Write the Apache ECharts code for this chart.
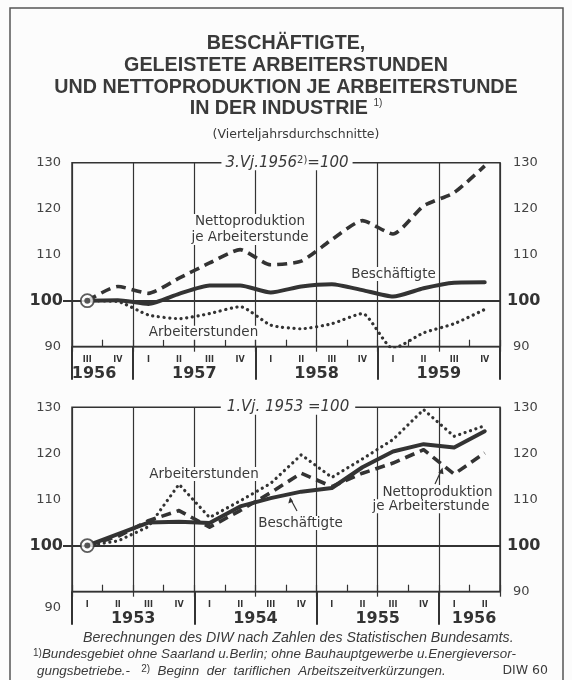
<!DOCTYPE html>
<html>
<head>
<meta charset="utf-8">
<title>Beschäftigte, geleistete Arbeiterstunden und Nettoproduktion</title>
<script src="https://cdn.jsdelivr.net/npm/echarts@6/dist/echarts.min.js"></script>
<style>
  html, body { margin: 0; padding: 0; background: #fcfcfc; }
  #main { width: 572px; height: 680px; }
</style>
</head>
<body>
<div id="main"></div>
<script>
// --- data -------------------------------------------------------------
// upper panel: 3. Vj. 1956 = 100, III/1956 .. IV/1959
var quartersTop = ['III', 'IV', 'I', 'II', 'III', 'IV', 'I', 'II', 'III', 'IV', 'I', 'II', 'III', 'IV'];
var yearsTop = ['1956', '1957', '1958', '1959'];
var yearPosTop = [0.72, 4, 8, 12];        // label centre, in quarters
var yearLinesTop = [0, 2, 6, 10, 14];     // year dividers, in quarters
var empTop = [100, 100.1, 99.3, 101.5, 103.3, 103.3, 101.8, 103.1, 103.6, 102.3, 100.9, 102.7, 103.9, 104.0];
var hoursTop = [100, 99.8, 96.9, 96.1, 97.2, 98.7, 94.7, 93.9, 95.0, 97.2, 89.6, 93.0, 95.0, 98.1];
var prodTop = [100, 103.1, 101.6, 104.9, 108.2, 111.1, 107.8, 108.6, 113.3, 117.4, 114.5, 120.6, 123.5, 129.3];

// lower panel: 1. Vj. 1953 = 100, I/1953 .. II/1956
var quartersBottom = ['I', 'II', 'III', 'IV', 'I', 'II', 'III', 'IV', 'I', 'II', 'III', 'IV', 'I', 'II'];
var yearsBottom = ['1953', '1954', '1955', '1956'];
var yearPosBottom = [2, 6, 10, 13.15];
var yearLinesBottom = [0, 4, 8, 12];
var empBottom = [100, 102.5, 105.0, 105.2, 104.9, 108.5, 110.3, 111.7, 112.5, 117.0, 120.4, 122.0, 121.3, 124.8];
var hoursBottom = [100, 101.0, 104.1, 113.3, 106.1, 109.7, 113.5, 119.7, 114.8, 118.8, 123.0, 129.5, 123.7, 126.0];
var prodBottom = [100, 102.0, 105.4, 107.6, 104.0, 107.6, 111.5, 115.7, 112.8, 115.7, 117.9, 120.8, 115.5, 120.1];

// ----------------------------------------------------------------------
var ink = '#333';
var paper = '#fcfcfc';
var numFont = 'DejaVu Sans';

// quarter i sits in the middle of its slot
function pts(arr) {
    return arr.map(function (v, i) { return [i + 0.5, v]; });
}

function xAxes(g, quarters, yearNames, yearPos, yearLines) {
    return [
        {   // grid lines every half year, 90 line
            gridIndex: g, type: 'value', min: 0, max: 14, interval: 2, position: 'bottom',
            axisLine: { show: true, lineStyle: { color: ink, width: 1.3 } },
            axisTick: { show: true, length: 5, lineStyle: { color: ink, width: 1.2 } },
            axisLabel: { show: false },
            splitLine: { show: true, lineStyle: { color: ink, width: 1.2 } }
        },
        {   // quarters
            gridIndex: g, type: 'category', data: quarters, boundaryGap: true, position: 'bottom',
            axisLine: { show: false },
            axisTick: { show: true, inside: true, length: 7, interval: 0, lineStyle: { color: ink, width: 1.2 } },
            axisLabel: { interval: 0, fontSize: 8, fontWeight: 'bold', color: ink, margin: 9, fontFamily: numFont },
            splitLine: { show: false }
        },
        {   // years
            gridIndex: g, type: 'value', min: 0, max: 14, position: 'bottom',
            axisLine: { show: false },
            axisTick: { show: true, customValues: yearLines, length: 33, lineStyle: { color: ink, width: 2 } },
            axisLabel: {
                customValues: yearPos, margin: 19, fontSize: 16, fontWeight: 'bold', color: ink, fontFamily: numFont,
                formatter: function (v) { return yearNames[yearPos.indexOf(v)] || ''; }
            },
            splitLine: { show: false }
        }
    ];
}

function yAxes(g) {
    var common = {
        gridIndex: g, type: 'value', min: 90, max: 130, interval: 10,
        axisLine: { show: false }
    };
    var left = Object.assign({}, common, {
        position: 'left',
        axisTick: { show: true, customValues: [100], length: 9, lineStyle: { color: ink, width: 2 } },
        splitLine: { show: true, lineStyle: { color: ink, width: 1.2 } },
        axisLabel: {
            margin: 9,
            formatter: function (v) {
                if (v === 100) return '{b|100}';
                if (g === 1 && v === 90) return '{low|90}';
                return '{n|' + v + '}';
            },
            rich: {
                b: { fontSize: 16, fontWeight: 'bold', color: ink, fontFamily: numFont },
                n: { fontSize: 13, color: '#444', fontFamily: numFont, padding: [0, 2, 0, 0] },
                low: { fontSize: 13, color: '#444', fontFamily: numFont, padding: [32, 2, 0, 0] }
            }
        }
    });
    var right = Object.assign({}, common, {
        position: 'right',
        axisTick: { show: true, customValues: [100], length: 7, lineStyle: { color: ink, width: 2 } },
        splitLine: { show: false },
        axisLabel: {
            margin: 7,
            formatter: function (v) { return v === 100 ? '{b|100}' : '{n|' + v + '}'; },
            rich: {
                b: { fontSize: 16, fontWeight: 'bold', color: ink, fontFamily: numFont },
                n: { fontSize: 13, color: '#444', fontFamily: numFont, padding: [0, 0, 0, 6] }
            }
        }
    });
    return [left, right];
}

function lineSeries(g, emp, hours, prod, smooth) {
    var xi = g * 3, yi = g * 2;
    var base = { type: 'line', xAxisIndex: xi, yAxisIndex: yi, showSymbol: false, silent: true, smooth: smooth, z: 3 };
    return [
        Object.assign({}, base, {
            name: 'Beschäftigte', data: pts(emp),
            lineStyle: { color: ink, width: 4, cap: 'round', join: 'round' },
            markLine: {
                silent: true, symbol: 'none', label: { show: false },
                lineStyle: { color: ink, width: 2, type: 'solid' },
                data: [{ yAxis: 100 }]
            }
        }),
        Object.assign({}, base, {
            name: 'Arbeiterstunden', data: pts(hours),
            lineStyle: { color: ink, width: 3.2, type: [0.1, 5.6], cap: 'round', join: 'round' }
        }),
        Object.assign({}, base, {
            name: 'Nettoproduktion je Arbeiterstunde', data: pts(prod),
            lineStyle: { color: ink, width: 3.6, type: [10, 6], join: 'round' }
        }),
        {   // starting point ring
            type: 'scatter', xAxisIndex: xi, yAxisIndex: yi, silent: true, z: 5,
            data: [[0.5, emp[0]]], symbol: 'circle', symbolSize: 13,
            itemStyle: { color: '#fff', borderColor: ink, borderWidth: 1.8 }
        },
        {
            type: 'scatter', xAxisIndex: xi, yAxisIndex: yi, silent: true, z: 6,
            data: [[0.5, emp[0]]], symbol: 'circle', symbolSize: 6,
            itemStyle: { color: ink }
        }
    ];
}

function label(text, x, y, size, extra) {
    return Object.assign({
        type: 'text', x: x, y: y, z: 50,
        style: {
            text: text, align: 'center', verticalAlign: 'middle', fill: '#3a3a3a',
            font: (size || 13.5) + 'px "DejaVu Sans"', backgroundColor: paper, padding: [0, 1]
        }
    }, extra || {});
}

var chart = echarts.init(document.getElementById('main'));

var footA = { fontFamily: 'Liberation Sans', fontStyle: 'italic', fontSize: 13.4, fill: '#3a3a3a' };
var footS = { fontFamily: 'Liberation Sans', fontSize: 10, verticalAlign: 'top', fill: '#3a3a3a' };

var option = {
    backgroundColor: paper,
    animation: false,
    grid: [
        { left: 72, top: 162.7, width: 428, height: 184, show: true, borderColor: ink, borderWidth: 1.5, backgroundColor: 'transparent' },
        { left: 72, top: 407.3, width: 428, height: 184.4, show: true, borderColor: ink, borderWidth: 1.5, backgroundColor: 'transparent' }
    ],
    xAxis: xAxes(0, quartersTop, yearsTop, yearPosTop, yearLinesTop)
        .concat(xAxes(1, quartersBottom, yearsBottom, yearPosBottom, yearLinesBottom)),
    yAxis: yAxes(0).concat(yAxes(1)),
    series: lineSeries(0, empTop, hoursTop, prodTop, 0.2)
        .concat(lineSeries(1, empBottom, hoursBottom, prodBottom, false)),
    graphic: [
        // frame
        { type: 'rect', z: 1, shape: { x: 10, y: 8, width: 553, height: 680 }, style: { fill: 'none', stroke: '#555', lineWidth: 1.5 } },
        // title
        {
            type: 'text', x: 286, y: 33, z: 50,
            style: {
                text: '{t|BESCHÄFTIGTE,}\n{t|GELEISTETE ARBEITERSTUNDEN}\n{t|UND NETTOPRODUKTION JE ARBEITERSTUNDE}\n{t|IN DER INDUSTRIE }{s|1)}',
                align: 'center', verticalAlign: 'top', fill: '#3a3a3a',
                rich: {
                    t: { fontFamily: 'Liberation Sans', fontWeight: 'bold', fontSize: 19.7, lineHeight: 21.7, fill: '#3a3a3a' },
                    s: { fontFamily: 'Liberation Sans', fontSize: 10, lineHeight: 21.7, verticalAlign: 'top', fill: '#3a3a3a' }
                }
            }
        },
        label('(Vierteljahrsdurchschnitte)', 296, 135, 12.5),
        // base notes on the 130 lines
        {
            type: 'text', x: 287, y: 162.7, z: 50,
            style: {
                text: '{a|3.Vj.1956}{s|2)}{a|=100}', align: 'center', verticalAlign: 'middle',
                backgroundColor: paper, padding: [0, 4],
                rich: {
                    a: { fontFamily: 'DejaVu Sans', fontStyle: 'italic', fontSize: 15, fill: '#3a3a3a' },
                    s: { fontFamily: 'DejaVu Sans', fontSize: 10, verticalAlign: 'top', fill: '#3a3a3a' }
                }
            }
        },
        {
            type: 'text', x: 288, y: 407.3, z: 50,
            style: {
                text: '1.Vj. 1953 =100', align: 'center', verticalAlign: 'middle', fill: '#3a3a3a',
                font: 'italic 15px "DejaVu Sans"', backgroundColor: paper, padding: [0, 6]
            }
        },
        // series labels, upper panel
        label('Nettoproduktion\nje Arbeiterstunde', 250, 229.5, 13.5, { style: {
            text: 'Nettoproduktion\nje Arbeiterstunde', align: 'center', verticalAlign: 'middle', fill: '#3a3a3a',
            font: '13.5px "DejaVu Sans"', lineHeight: 15.5, backgroundColor: paper, padding: [0, 1] } }),
        label('Beschäftigte', 393.5, 274),
        label('Arbeiterstunden', 203.5, 332.7),
        // series labels, lower panel
        label('Arbeiterstunden', 204, 474),
        label('Beschäftigte', 300.5, 523),
        label('Nettoproduktion', 437.5, 492),
        label('je Arbeiterstunde', 431, 506.3),
        // arrows, lower panel
        { type: 'line', z: 50, shape: { x1: 297, y1: 511, x2: 290.5, y2: 499 }, style: { stroke: ink, lineWidth: 1.2 } },
        { type: 'polygon', z: 50, shape: { points: [[290, 497], [288.3, 503.5], [293.2, 501.4]] }, style: { fill: ink } },
        { type: 'line', z: 50, shape: { x1: 435, y1: 484, x2: 441.5, y2: 470 }, style: { stroke: ink, lineWidth: 1.2 } },
        { type: 'polygon', z: 50, shape: { points: [[442.5, 467.5], [438.3, 472.7], [443.5, 474.2]] }, style: { fill: ink } },
        // footer
        {
            type: 'text', x: 83, y: 638, z: 50,
            style: { text: 'Berechnungen des DIW nach Zahlen des Statistischen Bundesamts.', verticalAlign: 'middle',
                     font: 'italic 14.2px "Liberation Sans"', fill: '#3a3a3a' }
        },
        {
            type: 'text', x: 33, y: 654.5, z: 50,
            style: {
                text: '{s|1)}{a|Bundesgebiet ohne Saarland u.Berlin; ohne Bauhauptgewerbe u.Energieversor-}', verticalAlign: 'middle',
                rich: { a: footA, s: footS }
            }
        },
        {
            type: 'text', x: 37, y: 671, z: 50,
            style: {
                text: '{a|gungsbetriebe.-   }{s|2)}{a|  Beginn  der  tariflichen  Arbeitszeitverkürzungen.}', verticalAlign: 'middle',
                rich: { a: footA, s: footS }
            }
        },
        {
            type: 'text', x: 548, y: 671, z: 50,
            style: { text: 'DIW 60', align: 'right', verticalAlign: 'middle', font: '12.5px "DejaVu Sans"', fill: '#3a3a3a' }
        }
    ]
};

chart.setOption(option);
</script>
</body>
</html>
